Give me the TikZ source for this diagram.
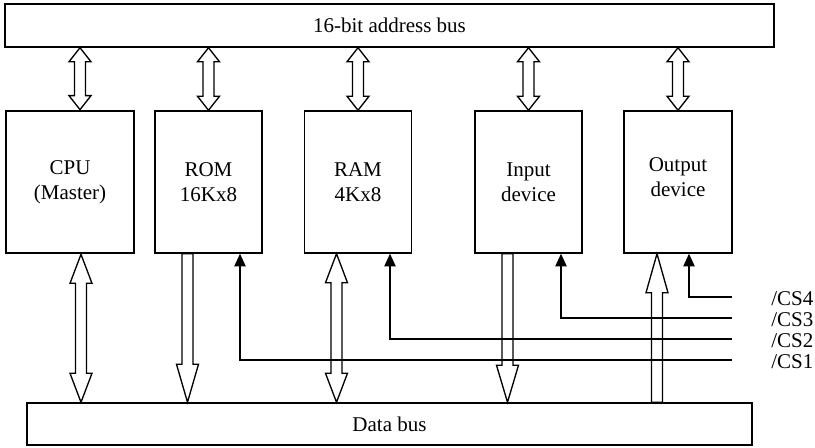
\documentclass[tikz,border=0pt]{standalone}
\usepackage{fontspec}
\setmainfont{Liberation Serif}
\usetikzlibrary{calc,arrows.meta}
\tikzset{
 lbl/.style={font=\fontsize{15.75}{18.75}\selectfont},
 box/.style={draw, line width=1.1pt, minimum width=80.25pt, minimum height=106.5pt, align=center, inner sep=0pt, lbl},
 bus/.style={draw, line width=1.1pt, inner sep=0pt, lbl},
 hollow/.style={draw, line width=1pt, line join=miter},
 csline/.style={draw, line width=1pt, -{Triangle[length=9.5pt,width=8.5pt]}},
}
\newcommand{\hdbl}[3]{%
 \draw[hollow] (#1) -- ++(11,#3) -- ++(-5.5,0) -- ($(#2)+(5.5,-#3)$) -- ++(5.5,0) -- (#2) -- ++(-11,-#3) -- ++(5.5,0) -- ($(#1)+(-5.5,#3)$) -- ++(-5.5,0) -- cycle;}
\newcommand{\hdown}[3]{%
 \draw[hollow] ($(#1)+(-5.5,0)$) -- ($(#1)+(5.5,0)$) -- ($(#2)+(5.5,-#3)$) -- ++(5.5,0) -- (#2) -- ++(-11,-#3) -- ++(5.5,0) -- cycle;}
\newcommand{\hup}[3]{%
 \draw[hollow] (#1) -- ++(11,#3) -- ++(-5.5,0) -- ($(#2)+(5.5,0)$) -- ($(#2)+(-5.5,0)$) -- ($(#1)+(-5.5,#3)$) -- ++(-5.5,0) -- cycle;}
\begin{document}
\begin{tikzpicture}[x=0.75pt,y=-0.75pt]
\useasboundingbox (0,0) rectangle (815,448);
% buses
\node[bus, minimum width=576.75pt, minimum height=32.25pt] (addr) at (389.5,25.5) {16-bit address bus};
\node[bus, minimum width=543.75pt, minimum height=31.5pt] (data) at (389.5,424) {Data bus};
% boxes
\node[box, minimum width=96pt, line width=2pt] (cpu) at (70,182) {CPU\\(Master)};
\node[box] (rom) at (208.5,182) {ROM\\16Kx8};
\node[box, minimum width=80.6pt] (ram) at (358,182) {RAM\\4Kx8};
\node[box] (in) at (528.5,182) {Input\\device};
\node[box, minimum width=81pt] (out) at (678,182) {};
\node[lbl, align=center, inner sep=0pt] (outlbl) at ($(out)+(0,-5)$) {Output\\device};
% top arrows
\coordinate (b1) at ($(cpu.north)+(10,0)$);
\coordinate (t1) at (addr.south -| b1);
\hdbl{t1}{b1}{14}
\coordinate (t2) at (addr.south -| rom.north);
\hdbl{t2}{rom.north}{14}
\coordinate (t3) at (addr.south -| ram.north);
\hdbl{t3}{ram.north}{14}
\coordinate (t4) at (addr.south -| in.north);
\hdbl{t4}{in.north}{14}
\coordinate (t5) at (addr.south -| out.north);
\hdbl{t5}{out.north}{14}
% bottom arrows
\coordinate (u1) at ($(cpu.south)+(11,0)$);
\coordinate (d1) at (data.north -| u1);
\hdbl{u1}{d1}{29}
\coordinate (u2) at ($(rom.south)+(-21,0)$);
\coordinate (d2) at (data.north -| u2);
\hdown{u2}{d2}{38}
\coordinate (u3) at ($(ram.south)+(-21.5,0)$);
\coordinate (d3) at (data.north -| u3);
\hdbl{u3}{d3}{29}
\coordinate (u4) at ($(in.south)+(-21,0)$);
\coordinate (d4) at (data.north -| u4);
\hdown{u4}{d4}{37}
\coordinate (u5) at ($(out.south)+(-21,0)$);
\coordinate (d5) at (data.north -| u5);
\hup{u5}{d5}{39}
% chip select lines
\node[lbl, anchor=base west, inner sep=0pt] (cs4) at (771,305.5) {/CS4};
\node[lbl, anchor=base west, inner sep=0pt] (cs3) at (771,326.5) {/CS3};
\node[lbl, anchor=base west, inner sep=0pt] (cs2) at (771,347.5) {/CS2};
\node[lbl, anchor=base west, inner sep=0pt] (cs1) at (771,368.5) {/CS1};
\coordinate (e4) at (732,297);
\coordinate (e3) at (732,318);
\coordinate (e2) at (732,339);
\coordinate (e1) at (732,360);
\coordinate (c1) at ($(rom.south)+(31.5,0)$);
\coordinate (c2) at ($(ram.south)+(32,0)$);
\coordinate (c3) at ($(in.south)+(32.5,0)$);
\coordinate (c4) at ($(out.south)+(11,0)$);
\draw[csline] (e1) -| (c1);
\draw[csline] (e2) -| (c2);
\draw[csline] (e3) -| (c3);
\draw[csline] (e4) -| (c4);
\end{tikzpicture}
\end{document}
